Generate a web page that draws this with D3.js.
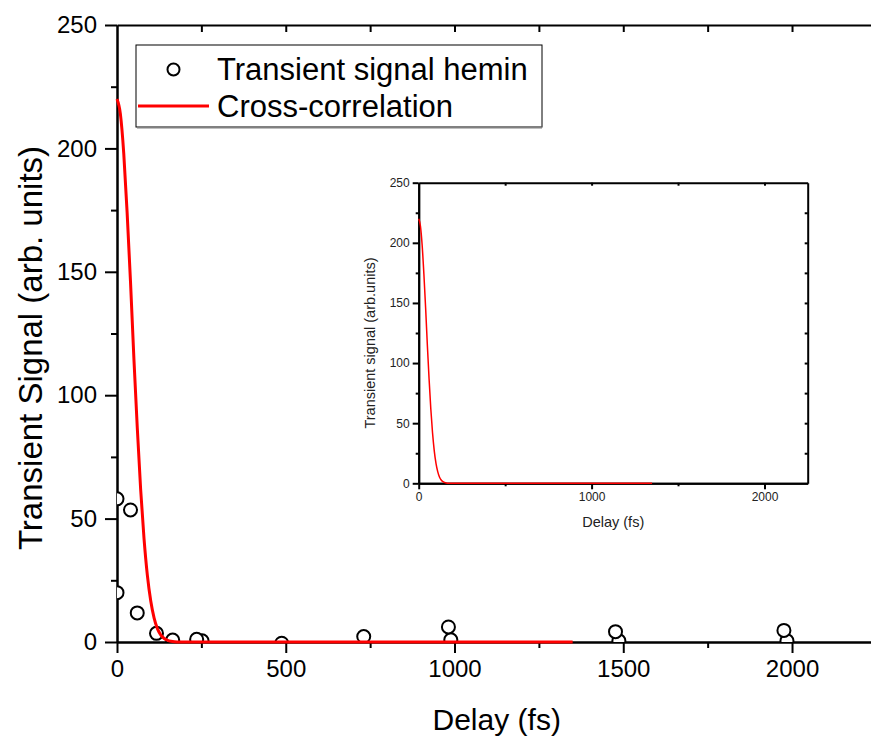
<!DOCTYPE html>
<html>
<head>
<meta charset="utf-8">
<script src="https://cdn.jsdelivr.net/npm/d3@7"></script>
<style>
  html, body { margin: 0; padding: 0; background: #fff; }
  svg { display: block; font-family: "Liberation Sans", Arial, sans-serif; }
</style>
</head>
<body>
<svg id="chart" width="871" height="737"></svg>
<script>
// Measured transient signal of hemin (delay in fs, signal in arb. units)
const signalDelay = [0, 0, 40, 60, 117, 165, 236, 252, 488, 731, 982, 989, 1477, 1487, 1976, 1985];
const signalValue = [58, 20, 53.5, 11.8, 3.5, 0.8, 1.1, 0.5, -0.5, 2.2, 6.1, 0.9, 4.2, 0.5, 4.7, 0.5];

// Cross-correlation trace
const ccDelay = [0, 10, 20, 30, 40, 50, 60, 70, 80, 90, 100, 110, 120, 130, 140, 150, 160, 170, 180, 200, 1350];
const ccValue = [220, 214, 198, 174, 146, 115, 87, 62, 42, 27, 16.6, 9.7, 5.3, 2.8, 1.4, 0.7, 0.3, 0.1, 0.04, 0, 0];

// Axis ticks
const xMajorTicks = [0, 500, 1000, 1500, 2000];
const xMinorTicks = [250, 750, 1250, 1750];
const xTopTicks = [250, 500, 750, 1000, 1250, 1500, 1750, 2000];
const yMajorTicks = [0, 50, 100, 150, 200, 250];
const yMinorTicks = [25, 75, 125, 175, 225];
const insetXMajor = [0, 1000, 2000];
const insetXMinor = [500, 1500];
const insetXTop = [500, 1000, 1500, 2000];
const insetYRight = [25, 50, 75, 100, 125, 150, 175, 200, 225];

const legendLabels = ["Transient signal hemin", "Cross-correlation"];

const signal = signalDelay.map((d, i) => ({ x: d, y: signalValue[i] }));
const cc = ccDelay.map((d, i) => ({ x: d, y: ccValue[i] }));

const svg = d3.select("#chart");
const fmt = d3.format("d");
const FONT = "Liberation Sans, Arial, sans-serif";

function styleAxis(g, width) {
  g.select(".domain").attr("stroke", "#000").attr("stroke-width", width);
  g.selectAll(".tick line").attr("stroke", "#000").attr("stroke-width", width);
}

// ---------- main panel ----------
const x = d3.scaleLinear().domain([0, 2250]).range([117, 876.4]);
const y = d3.scaleLinear().domain([0, 250]).range([642, 25]);

svg.append("defs").append("clipPath").attr("id", "plotClip")
  .append("rect")
  .attr("x", x(0)).attr("y", y(250))
  .attr("width", x(2250) - x(0)).attr("height", y(0) - y(250));

// top frame with inward ticks
svg.append("g").attr("transform", `translate(0,${y(250)})`)
  .call(d3.axisBottom(x).tickValues(xTopTicks).tickSize(7).tickSizeOuter(0).tickFormat(""))
  .call(g => styleAxis(g, 2));

// right frame
svg.append("line")
  .attr("x1", x(2250)).attr("x2", x(2250)).attr("y1", y(0)).attr("y2", y(250))
  .attr("stroke", "#000").attr("stroke-width", 2);

// bottom axis
svg.append("g").attr("transform", `translate(0,${y(0)})`)
  .call(d3.axisBottom(x).tickValues(xMinorTicks).tickSize(6).tickSizeOuter(0).tickFormat(""))
  .call(g => styleAxis(g, 2));
const xAxisG = svg.append("g").attr("transform", `translate(0,${y(0)})`)
  .call(d3.axisBottom(x).tickValues(xMajorTicks).tickSize(11).tickSizeOuter(0).tickPadding(7).tickFormat(fmt))
  .call(g => styleAxis(g, 2));
xAxisG.selectAll(".tick text").attr("font-size", 24).attr("fill", "#000").attr("font-family", FONT);

// left axis
svg.append("g").attr("transform", `translate(${x(0)},0)`)
  .call(d3.axisLeft(y).tickValues(yMinorTicks).tickSize(6).tickSizeOuter(0).tickFormat(""))
  .call(g => styleAxis(g, 2));
const yAxisG = svg.append("g").attr("transform", `translate(${x(0)},0)`)
  .call(d3.axisLeft(y).tickValues(yMajorTicks).tickSize(12).tickSizeOuter(0).tickPadding(8).tickFormat(fmt))
  .call(g => styleAxis(g, 2));
yAxisG.selectAll(".tick text").attr("font-size", 24).attr("fill", "#000").attr("font-family", FONT);

// axis titles
svg.append("text")
  .attr("x", (x(0) + x(2250)) / 2).attr("y", 730)
  .attr("text-anchor", "middle").attr("font-size", 30).attr("fill", "#000")
  .text("Delay (fs)");
svg.append("text")
  .attr("transform", `translate(42,348) rotate(-90)`)
  .attr("text-anchor", "middle").attr("font-size", 33).attr("fill", "#000")
  .text("Transient Signal (arb. units)");

// measured points
svg.append("g").attr("clip-path", "url(#plotClip)")
  .selectAll("circle")
  .data(d3.sort(signal, d => d.y))
  .join("circle")
  .attr("cx", d => x(d.x)).attr("cy", d => y(d.y)).attr("r", 6.5)
  .attr("fill", "#fff").attr("stroke", "#000").attr("stroke-width", 2);

// cross-correlation curve
const line = d3.line().x(d => x(d.x)).y(d => y(d.y)).curve(d3.curveMonotoneX);
svg.append("path").datum(cc)
  .attr("d", line).attr("fill", "none").attr("stroke", "#ff0000").attr("stroke-width", 3);

// legend
const legend = svg.append("g");
legend.append("rect").attr("x", 136).attr("y", 45).attr("width", 406).attr("height", 82)
  .attr("fill", "#fff").attr("stroke", "#000").attr("stroke-width", 1);
legend.append("line").attr("x1", 137).attr("x2", 542).attr("y1", 127.5).attr("y2", 127.5)
  .attr("stroke", "#808080").attr("stroke-width", 2);
legend.append("circle").attr("cx", 173.5).attr("cy", 69.5).attr("r", 6)
  .attr("fill", "#fff").attr("stroke", "#000").attr("stroke-width", 2);
legend.append("line").attr("x1", 138).attr("x2", 209).attr("y1", 106).attr("y2", 106)
  .attr("stroke", "#ff0000").attr("stroke-width", 3);
legend.selectAll("text.lab").data(legendLabels).join("text")
  .attr("class", "lab")
  .attr("x", 217).attr("y", (d, i) => 80 + i * 37)
  .attr("font-size", 31).attr("fill", "#000")
  .text(d => d);

// ---------- inset panel ----------
const xi = d3.scaleLinear().domain([0, 2250]).range([418.7, 807.7]);
const yi = d3.scaleLinear().domain([0, 250]).range([483.3, 182.7]);
const inset = svg.append("g");

inset.append("rect").attr("x", xi(0)).attr("y", yi(250))
  .attr("width", xi(2250) - xi(0)).attr("height", yi(0) - yi(250)).attr("fill", "#fff");

inset.append("g").attr("transform", `translate(0,${yi(250)})`)
  .call(d3.axisBottom(xi).tickValues(insetXTop).tickSize(3).tickSizeOuter(0).tickFormat(""))
  .call(g => styleAxis(g, 2));
inset.append("g").attr("transform", `translate(${xi(2250)},0)`)
  .call(d3.axisLeft(yi).tickValues(insetYRight).tickSize(3).tickSizeOuter(0).tickFormat(""))
  .call(g => styleAxis(g, 2));

inset.append("g").attr("transform", `translate(0,${yi(0)})`)
  .call(d3.axisBottom(xi).tickValues(insetXMinor).tickSize(3).tickSizeOuter(0).tickFormat(""))
  .call(g => styleAxis(g, 2));
const xiAxis = inset.append("g").attr("transform", `translate(0,${yi(0)})`)
  .call(d3.axisBottom(xi).tickValues(insetXMajor).tickSize(6).tickSizeOuter(0).tickPadding(3).tickFormat(fmt))
  .call(g => styleAxis(g, 2));
xiAxis.selectAll(".tick text").attr("font-size", 12).attr("fill", "#222").attr("font-family", FONT);

inset.append("g").attr("transform", `translate(${xi(0)},0)`)
  .call(d3.axisLeft(yi).tickValues(yMinorTicks).tickSize(3).tickSizeOuter(0).tickFormat(""))
  .call(g => styleAxis(g, 2));
const yiAxis = inset.append("g").attr("transform", `translate(${xi(0)},0)`)
  .call(d3.axisLeft(yi).tickValues(yMajorTicks).tickSize(6).tickSizeOuter(0).tickPadding(3).tickFormat(fmt))
  .call(g => styleAxis(g, 2));
yiAxis.selectAll(".tick text").attr("font-size", 12).attr("fill", "#222").attr("font-family", FONT);

inset.append("text")
  .attr("x", (xi(0) + xi(2250)) / 2).attr("y", 527)
  .attr("text-anchor", "middle").attr("font-size", 14.5).attr("fill", "#222")
  .text("Delay (fs)");
inset.append("text")
  .attr("transform", `translate(375,${(yi(0) + yi(250)) / 2 + 10}) rotate(-90)`)
  .attr("text-anchor", "middle").attr("font-size", 14.5).attr("fill", "#222")
  .text("Transient signal (arb.units)");

const lineInset = d3.line().x(d => xi(d.x)).y(d => yi(d.y)).curve(d3.curveMonotoneX);
inset.append("path").datum(cc)
  .attr("d", lineInset).attr("fill", "none").attr("stroke", "#ff0000").attr("stroke-width", 1.5);
</script>
</body>
</html>
